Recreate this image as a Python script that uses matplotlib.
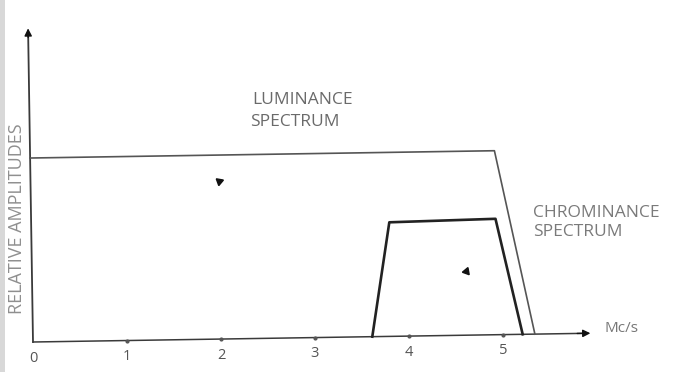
import numpy as np
import matplotlib
matplotlib.use("Agg")
import matplotlib.pyplot as plt
import matplotlib.transforms as mtransforms

# spectrum outlines (x in Mc/s, y relative amplitude)
lum_x = [0.0, 4.94, 5.34]
lum_y = [1.0, 1.0, 0.0]
chroma_x = [3.61, 3.81, 4.94, 5.21]
chroma_y = [0.0, 0.62, 0.63, 0.0]
tick_vals = [0, 1, 2, 3, 4, 5]
tick_labels = ["0", "1", "2", "3", "4", "5"]
x_end = 5.96
y_end = 1.72
pointers = [(2.01, 0.86), (4.62, 0.35)]

plt.rcParams["font.family"] = ["Open Sans", "DejaVu Sans"]

fig = plt.figure(figsize=(6.83, 3.72), dpi=100)
ax = fig.add_axes([0, 0, 1, 1])
ax.set_xlim(-33 / 94, 650 / 94)
ax.set_ylim(-30 / 184, 342 / 184)
ax.axis("off")

# the scan is tilted a little, rotate the drawing around the origin
fig.canvas.draw()
ox, oy = ax.transData.transform((0, 0))
rot = ax.transData + mtransforms.Affine2D().rotate_deg_around(ox, oy, 0.9)

ink = "#3a3a3a"
# axes with arrows
ax.plot([0, 0], [0, y_end - 0.05], color=ink, lw=1.3, transform=rot)
ax.plot([0, x_end - 0.1], [0, 0], color=ink, lw=1.1, transform=rot)
ax.annotate("", xy=(0, y_end), xytext=(0, y_end - 0.08), xycoords=rot, textcoords=rot,
            arrowprops=dict(arrowstyle="-|>", color="#111", lw=1, mutation_scale=11))
ax.annotate("", xy=(x_end, 0), xytext=(x_end - 0.2, 0), xycoords=rot, textcoords=rot,
            arrowprops=dict(arrowstyle="-|>", color="#111", lw=1, mutation_scale=11))

# small tick dots
ax.plot(tick_vals[1:], [0] * 5, ls="none", marker="o", ms=2, color="#555", transform=rot)
for v, lab in zip(tick_vals, tick_labels):
    px, py = rot.transform((v, 0))
    fig.text(px / fig.bbox.width, (py - 16) / fig.bbox.height, lab, ha="center",
             va="center", fontsize=10.5, color="#555")

# spectra
ax.plot(lum_x, lum_y, color="#555", lw=1.2, transform=rot)
ax.plot(chroma_x, chroma_y, color="#222", lw=1.9, transform=rot)

# pointer arrowheads
ax.plot([pointers[0][0]], [pointers[0][1]], marker=(3, 0, 170), ms=6, color="#111", ls="none", transform=rot)
ax.plot([pointers[1][0]], [pointers[1][1]], marker=(3, 0, 100), ms=6, color="#111", ls="none", transform=rot)

# labels
W, H = 683, 372
lab_kw = dict(fontsize=12.5, va="center", ha="left")
fig.text(252 / W, 1 - 100 / H, "LUMINANCE", color="#6a6a6a", **lab_kw)
fig.text(250 / W, 1 - 122 / H, "SPECTRUM", color="#6a6a6a", **lab_kw)
fig.text(533 / W, 1 - 213 / H, "CHROMINANCE", color="#7a7a7a", **lab_kw)
fig.text(533 / W, 1 - 232 / H, "SPECTRUM", color="#7a7a7a", **lab_kw)
fig.text(605 / W, 1 - 328 / H, "Mc/s", fontsize=11, color="#777", va="center", ha="left")
fig.text(17 / W, 1 - 219 / H, "RELATIVE AMPLITUDES", fontsize=13, color="#8f8f8f",
         rotation=90, va="center", ha="center")

# scanner shadow on the left edge
fig.patches.append(plt.Rectangle((0, 0), 5 / W, 1, transform=fig.transFigure,
                                 color="#d8d8d8", lw=0))

fig.savefig("out.png", dpi=100)
